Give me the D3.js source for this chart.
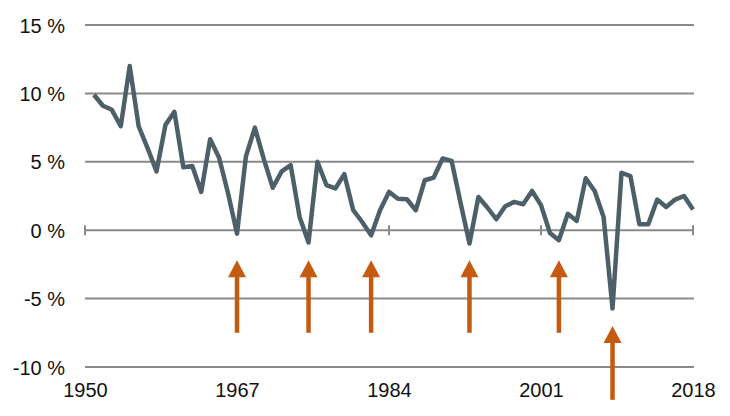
<!DOCTYPE html>
<html><head><meta charset="utf-8">
<script src="https://cdn.jsdelivr.net/npm/d3@7/dist/d3.min.js"></script>
<style>html,body{margin:0;padding:0;background:#fff;}svg{display:block;}</style>
</head><body><svg id="c" width="730" height="416"></svg>
<script>
const years = d3.range(1951, 2019);
const growth = [9.9, 9.1, 8.8, 7.6, 12.0, 7.6, 6.0, 4.3, 7.7, 8.65,
  4.6, 4.7, 2.8, 6.65, 5.3, 2.7, -0.25, 5.4, 7.5, 5.2,
  3.1, 4.3, 4.75, 0.97, -0.9, 5.0, 3.3, 3.05, 4.1, 1.46,
  0.6, -0.37, 1.46, 2.8, 2.3, 2.26, 1.46, 3.65, 3.85, 5.24,
  5.07, 2.0, -0.97, 2.43, 1.66, 0.8, 1.75, 2.07, 1.9, 2.87,
  1.83, -0.2, -0.73, 1.2, 0.68, 3.8, 2.87, 0.97, -5.72, 4.2,
  3.95, 0.44, 0.44, 2.24, 1.7, 2.24, 2.5, 1.51];
const yTicks = [15, 10, 5, 0, -5, -10];
const xTickYears = [1950, 1967, 1984, 2001, 2018];
const recessionYears = [1967, 1975, 1982, 1993, 2003, 2009];
const arrowTip = [-2.2, -2.2, -2.2, -2.2, -2.2, -7.0];
const arrowBase = [-7.5, -7.5, -7.5, -7.5, -7.5, -12.4];

const svg = d3.select("#c");
const x = d3.scaleLinear().domain([1950, 2018]).range([85, 693]);
const y = d3.scaleLinear().domain([-10, 15]).range([367, 25]);
const font = "'Liberation Sans', Arial, sans-serif";
const grid = "#8a8a8a";

// gridlines
svg.append("g").selectAll("line").data(yTicks.filter(d => d !== 0)).join("line")
  .attr("x1", 85).attr("x2", 694)
  .attr("y1", d => y(d)).attr("y2", d => y(d))
  .attr("stroke", grid).attr("stroke-width", 2);

// zero axis with ticks
const xAxis = d3.axisBottom(x).tickValues(xTickYears).tickSize(0).tickFormat("");
const zg = svg.append("g").attr("transform", `translate(0,${y(0)})`).call(xAxis);
zg.select(".domain").attr("stroke", grid).attr("stroke-width", 2).attr("d", "M85,0H694");
svg.append("g").selectAll("line").data(xTickYears).join("line")
  .attr("x1", d => x(d)).attr("x2", d => x(d))
  .attr("y1", y(0) - 5).attr("y2", y(0) + 5)
  .attr("stroke", grid).attr("stroke-width", 2);

// y labels
const yAxis = d3.axisLeft(y).tickValues(yTicks).tickSize(0).tickFormat(d => d + " %");
const yg = svg.append("g").attr("transform", "translate(65,0)").call(yAxis);
yg.select(".domain").remove();
yg.selectAll("text").attr("x", 0).attr("dy", "0.35em")
  .attr("font-family", font).attr("font-size", 20).attr("fill", "#111");

// x labels
const xl = d3.axisBottom(x).tickValues(xTickYears).tickSize(0).tickFormat(d3.format("d"));
const xg = svg.append("g").attr("transform", "translate(0,383)").call(xl);
xg.select(".domain").remove();
xg.selectAll("text").attr("y", 0).attr("dy", "0.71em")
  .attr("font-family", font).attr("font-size", 20).attr("fill", "#111");

// data line
svg.append("path").datum(years.map((yr, i) => [yr, growth[i]]))
  .attr("fill", "none").attr("stroke", "#4d5f68").attr("stroke-width", 4.5)
  .attr("stroke-linejoin", "round")
  .attr("d", d3.line().x(d => x(d[0])).y(d => y(d[1])));

// arrows
const orange = "#c55a11";
const ag = svg.append("g").selectAll("g").data(recessionYears.map((yr, i) => ({yr, tip: arrowTip[i], base: arrowBase[i]}))).join("g");
ag.append("line")
  .attr("x1", d => x(d.yr)).attr("x2", d => x(d.yr))
  .attr("y1", d => y(d.tip) + 14).attr("y2", d => y(d.base))
  .attr("stroke", orange).attr("stroke-width", 4.5);
ag.append("path")
  .attr("d", d => { const cx = x(d.yr), ty = y(d.tip); return `M${cx},${ty}L${cx + 9},${ty + 17}L${cx - 9},${ty + 17}Z`; })
  .attr("fill", orange);
</script></body></html>
